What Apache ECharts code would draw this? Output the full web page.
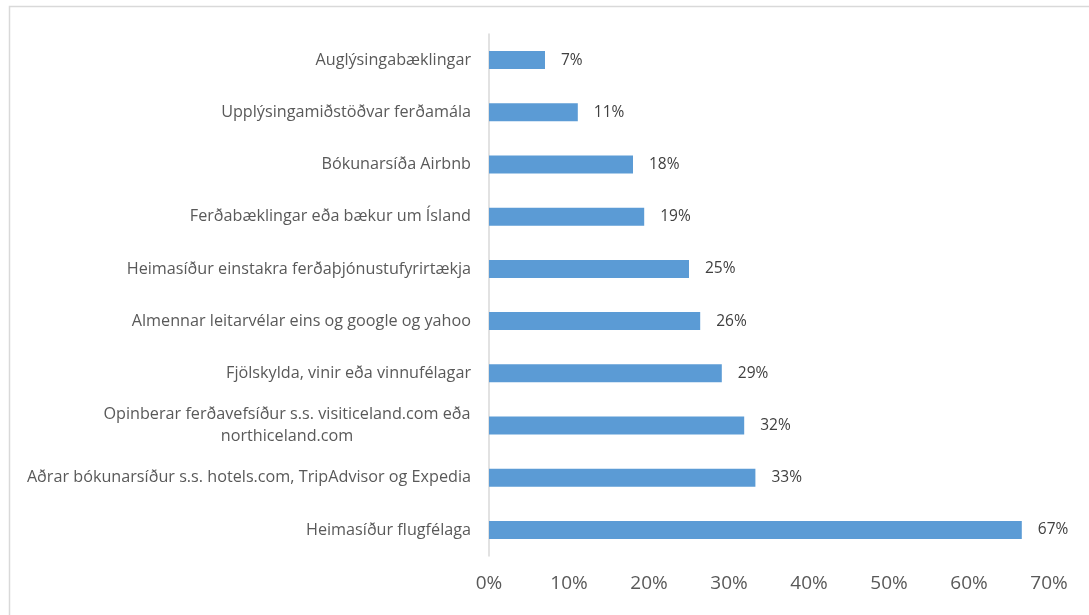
<!DOCTYPE html>
<html>
<head>
<meta charset="utf-8">
<script src="https://cdn.jsdelivr.net/npm/echarts@6/dist/echarts.min.js"></script>
<style>
  html, body { margin: 0; padding: 0; background: #fff; }
  #main { width: 1089px; height: 615px; }
</style>
</head>
<body>
<div id="main"></div>
<script>
// categories, bottom to top (category axis starts at the bottom)
var categories = [
  'Heimasíður flugfélaga',
  'Aðrar bókunarsíður s.s. hotels.com, TripAdvisor og Expedia',
  'Opinberar ferðavefsíður s.s. visiticeland.com eða\nnorthiceland.com',
  'Fjölskylda, vinir eða vinnufélagar',
  'Almennar leitarvélar eins og google og yahoo',
  'Heimasíður einstakra ferðaþjónustufyrirtækja',
  'Ferðabæklingar eða bækur um Ísland',
  'Bókunarsíða Airbnb',
  'Upplýsingamiðstöðvar ferðamála',
  'Auglýsingabæklingar'
];
// share of respondents (%)
var values = [66.6, 33.3, 31.9, 29.1, 26.4, 25.0, 19.4, 18.0, 11.1, 7.0];
var xTicks = [0, 10, 20, 30, 40, 50, 60, 70];

var font = 'Open Sans';
var labelSize = 16.2;

// width of the longest line of a wrapped label, so its lines centre on each other
function lineWidth(text) {
  var ctx = document.createElement('canvas').getContext('2d');
  ctx.font = labelSize + 'px "' + font + '"';
  var w = 0;
  text.split('\n').forEach(function (s) { w = Math.max(w, ctx.measureText(s).width); });
  return Math.ceil(w);
}

var chart = echarts.init(document.getElementById('main'));

function draw() {
  var wrapped = categories.filter(function (c) { return c.indexOf('\n') >= 0; })[0];
  var option = {
    animation: false,
    backgroundColor: '#fff',
    graphic: [{
      type: 'rect',
      left: 7, top: 4,
      shape: { width: 1100, height: 640 },
      style: { fill: 'none', stroke: '#D9D9D9', lineWidth: 1.5 },
      silent: true
    }],
    grid: { left: 489, right: 40, top: 34, bottom: 59 },
    xAxis: {
      type: 'value',
      min: xTicks[0],
      max: xTicks[xTicks.length - 1],
      interval: 10,
      axisLine: { show: false },
      axisTick: { show: false },
      splitLine: { show: false },
      axisLabel: {
        formatter: '{value}%',
        color: '#595959',
        fontFamily: font,
        fontSize: 19,
        margin: 18
      }
    },
    yAxis: {
      type: 'category',
      data: categories,
      axisLine: { show: true, lineStyle: { color: '#D9D9D9', width: 1.5 } },
      axisTick: { show: false },
      axisLabel: {
        color: '#595959',
        fontFamily: font,
        fontSize: labelSize,
        margin: 18,
        lineHeight: 22,
        formatter: function (v) {
          if (v.indexOf('\n') >= 0) return '{c|' + v + '}';
          return v;
        },
        rich: {
          c: {
            align: 'center',
            width: lineWidth(wrapped),
            color: '#595959',
            fontFamily: font,
            fontSize: labelSize,
            lineHeight: 22
          }
        }
      }
    },
    series: [{
      type: 'bar',
      data: values,
      barWidth: 18,
      itemStyle: { color: '#5B9BD5' },
      label: {
        show: true,
        position: 'right',
        distance: 16,
        color: '#404040',
        fontFamily: font,
        fontSize: 15.5,
        formatter: function (p) { return Math.round(p.value) + '%'; }
      }
    }]
  };
  chart.setOption(option, true);
}

draw();
if (document.fonts && document.fonts.ready) {
  document.fonts.load(labelSize + 'px "' + font + '"').then(draw, draw);
}
</script>
</body>
</html>
